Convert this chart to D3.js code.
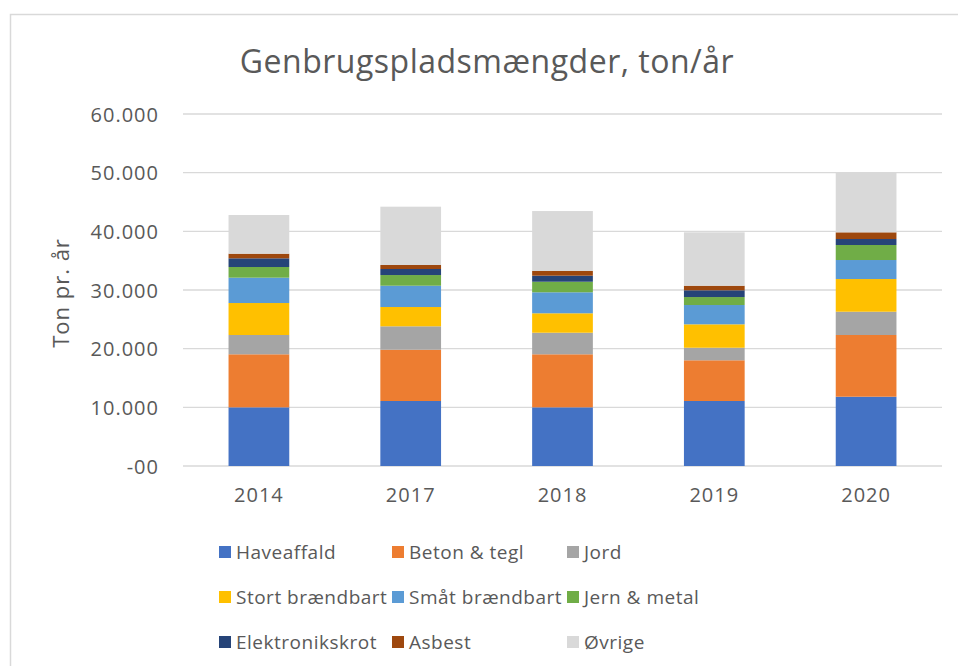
<!DOCTYPE html>
<html lang="da">
<head>
    <meta charset="UTF-8">
    <title>Genbrugspladsmængder</title>
    <script src="https://d3js.org/d3.v7.min.js"></script>
    <style>
        body { margin: 0; background: #fff; }
        text { font-family: "Open Sans", "Noto Sans", sans-serif; fill: #595959; }
    </style>
</head>
<body>
    <div id="chart"></div>
    <script>
        // Years on the x axis
        var years = ["2014", "2017", "2018", "2019", "2020"];

        // Tons per fraction, one value per year
        var haveaffald      = [10000, 11080, 10000, 11080, 11810];
        var betonTegl       = [9040, 8740, 9040, 6940, 10520];
        var jord            = [3290, 3990, 3680, 2140, 3970];
        var stortBraendbart = [5450, 3290, 3310, 3990, 5570];
        var smaatBraendbart = [4320, 3630, 3580, 3290, 3240];
        var jernMetal       = [1820, 1820, 1800, 1360, 2560];
        var elektronik      = [1480, 1030, 1030, 1150, 1020];
        var asbest          = [790, 680, 800, 780, 1140];
        var oevrige         = [6590, 9940, 10220, 9100, 10230];

        var seriesNames = ["Haveaffald", "Beton & tegl", "Jord", "Stort brændbart", "Småt brændbart",
                           "Jern & metal", "Elektronikskrot", "Asbest", "Øvrige"];
        var seriesValues = [haveaffald, betonTegl, jord, stortBraendbart, smaatBraendbart,
                            jernMetal, elektronik, asbest, oevrige];
        var colors = ["#4472C4", "#ED7D31", "#A5A5A5", "#FFC000", "#5B9BD5",
                      "#70AD47", "#264478", "#9E480E", "#D9D9D9"];
        var yTicks = [0, 10000, 20000, 30000, 40000, 50000, 60000];

        // build rows for d3.stack
        var rows = years.map(function(y, i) {
            var r = { year: y };
            seriesNames.forEach(function(s, j) { r[s] = seriesValues[j][i]; });
            return r;
        });

        var W = 958, H = 666;
        var margin = {top: 114, right: 16, bottom: 200, left: 183};
        var width = 942 - margin.left;
        var height = 466 - margin.top;

        var svg = d3.select("#chart").append("svg")
            .attr("width", W).attr("height", H);

        // chart frame
        svg.append("rect")
            .attr("x", 10.5).attr("y", 14.5)
            .attr("width", 1000).attr("height", 700)
            .attr("fill", "none").attr("stroke", "#D9D9D9").attr("stroke-width", 1.5);

        var g = svg.append("g").attr("transform", "translate(" + margin.left + "," + margin.top + ")");

        var x = d3.scaleBand().domain(years).range([0, width]).paddingInner(0.6).paddingOuter(0.3);
        var y = d3.scaleLinear().domain([0, 60000]).range([height, 0]);

        var fmt = function(d) { return d === 0 ? "-00" : d3.format(",")(d).replace(/,/g, "."); };

        // gridlines
        g.selectAll(".grid").data(yTicks).enter().append("line")
            .attr("x1", 0).attr("x2", width)
            .attr("y1", function(d) { return y(d); }).attr("y2", function(d) { return y(d); })
            .attr("stroke", "#D9D9D9").attr("stroke-width", 1.3);

        // y axis labels
        var yAxis = g.append("g").call(d3.axisLeft(y).tickValues(yTicks).tickFormat(fmt).tickSize(0).tickPadding(24));
        yAxis.select(".domain").remove();
        yAxis.selectAll("text").style("font-size", "20px").style("letter-spacing", "1px")
            .attr("fill", "#595959").attr("dy", "0.35em");

        // stacked bars
        var stack = d3.stack().keys(seriesNames);
        var layers = stack(rows);

        g.selectAll(".layer").data(layers).enter().append("g")
            .attr("fill", function(d, i) { return colors[i]; })
            .selectAll("rect").data(function(d) { return d; }).enter().append("rect")
            .attr("x", function(d) { return x(d.data.year); })
            .attr("width", x.bandwidth())
            .attr("y", function(d) { return y(d[1]); })
            .attr("height", function(d) { return y(d[0]) - y(d[1]); });

        // x axis labels
        var xAxis = g.append("g").attr("transform", "translate(0," + height + ")")
            .call(d3.axisBottom(x).tickSize(0).tickPadding(22));
        xAxis.select(".domain").remove();
        xAxis.selectAll("text").style("font-size", "20px").style("letter-spacing", "1px")
            .attr("fill", "#595959");

        // title
        svg.append("text")
            .attr("x", 487).attr("y", 73)
            .attr("text-anchor", "middle")
            .style("font-size", "32px").style("letter-spacing", "0.5px")
            .text("Genbrugspladsmængder, ton/år");

        // y axis title
        svg.append("text")
            .attr("transform", "translate(69,293) rotate(-90)")
            .attr("text-anchor", "middle")
            .style("font-size", "22px").style("letter-spacing", "1px")
            .text("Ton pr. år");

        // legend, 3 columns
        var legX = [219, 392, 567];
        var legY = [552, 597, 642];
        var leg = svg.selectAll(".leg").data(seriesNames).enter().append("g")
            .attr("transform", function(d, i) {
                return "translate(" + legX[i % 3] + "," + legY[Math.floor(i / 3)] + ")";
            });
        leg.append("rect")
            .attr("x", 0).attr("y", -6).attr("width", 12).attr("height", 12)
            .attr("fill", function(d, i) { return colors[i]; });
        leg.append("text")
            .attr("x", 17).attr("dy", "0.35em")
            .style("font-size", "19px").style("letter-spacing", "0.5px")
            .text(function(d) { return d; });
    </script>
</body>
</html>
